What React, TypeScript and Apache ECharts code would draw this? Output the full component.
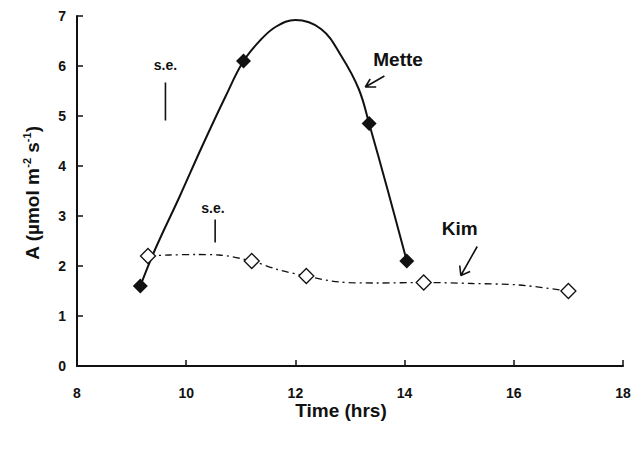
import React, { useEffect, useRef } from "react";
import * as echarts from "echarts";

// Measured points (markers)
const metteTime = [9.16, 11.05, 13.35, 14.04];
const metteA = [1.6, 6.1, 4.85, 2.1];
const kimTime = [9.3, 11.2, 12.2, 14.35, 17.0];
const kimA = [2.2, 2.1, 1.8, 1.67, 1.5];

// Fitted curves
const metteCurveTime = [9.16, 9.43, 9.88, 10.29, 10.72, 11.05, 11.37, 11.65, 12.0, 12.47, 12.84, 13.16, 13.35, 13.7, 14.04];
const metteCurveA = [1.6, 2.33, 3.39, 4.39, 5.39, 6.1, 6.53, 6.79, 6.92, 6.74, 6.2, 5.54, 4.85, 3.48, 2.1];
const kimCurveTime = [9.3, 9.7, 10.2, 10.6, 11.2, 11.67, 12.2, 12.8, 13.5, 14.35, 15.25, 16.1, 17.0];
const kimCurveA = [2.2, 2.22, 2.23, 2.22, 2.1, 1.93, 1.8, 1.68, 1.66, 1.67, 1.65, 1.62, 1.5];

// Standard-error bars: [time, top, bottom]
const seMette = [9.62, 5.67, 4.91];
const seKim = [10.53, 2.93, 2.47];

// Annotation labels
const labelTexts = ["Mette", "Kim", "s.e.", "s.e."];
const labelTime = [13.88, 15.01, 9.62, 10.49];
const labelA = [6.14, 2.75, 6.03, 3.17];
const labelSize = [19, 19, 14, 14];

// Arrows: tail, head, wing1, wing2 (time, A)
const metteArrow = [[13.63, 5.8], [13.28, 5.58], [13.37, 5.74], [13.48, 5.58]];
const kimArrow = [[15.33, 2.39], [15.03, 1.81], [15.01, 2.01], [15.2, 1.89]];

const xMin = 8, xMax = 18, xStep = 2;
const yMin = 0, yMax = 7, yStep = 1;

const FONT = '"Liberation Sans", Arial, Helvetica, sans-serif';
const INK = "#111";

function zip(a: number[], b: number[]) {
  return a.map((v, i) => [v, b[i]]);
}

function arrowPath(a: number[][]) {
  return [a[0], a[1], a[2], a[1], a[3]];
}

export default function App() {
  const ref = useRef<HTMLDivElement>(null);
  useEffect(() => {
    if (!ref.current) return;
    const chart = echarts.init(ref.current, null, { renderer: "svg" });
    const lineBase = {
      type: "line",
      symbol: "none",
      silent: true,
      animation: false,
    };
    chart.setOption({
      animation: false,
      backgroundColor: "#fff",
      grid: { left: 77, right: 12, top: 16, bottom: 89 },
      xAxis: {
        type: "value",
        min: xMin,
        max: xMax,
        interval: xStep,
        splitLine: { show: false },
        axisLine: { show: true, onZero: false, lineStyle: { color: INK, width: 2 } },
        axisTick: { show: true, inside: true, length: 6, lineStyle: { color: INK, width: 1.5 } },
        axisLabel: { color: INK, fontFamily: FONT, fontWeight: "bold", fontSize: 14, margin: 20 },
      },
      yAxis: {
        type: "value",
        min: yMin,
        max: yMax,
        interval: yStep,
        splitLine: { show: false },
        axisLine: { show: true, onZero: false, lineStyle: { color: INK, width: 2 } },
        axisTick: { show: true, inside: true, length: 6, lineStyle: { color: INK, width: 1.5 } },
        axisLabel: { color: INK, fontFamily: FONT, fontWeight: "bold", fontSize: 14, margin: 11 },
      },
      graphic: [
        {
          type: "text",
          x: 341,
          y: 410,
          style: {
            text: "Time (hrs)",
            fill: INK,
            font: `bold 19px ${FONT}`,
            align: "center",
            verticalAlign: "middle",
          },
        },
        {
          type: "text",
          x: 32,
          y: 193,
          rotation: Math.PI / 2,
          style: {
            text: "{a|A (µmol m}{s|-2}{a| s}{s|-1}{a|)}",
            fill: INK,
            align: "center",
            verticalAlign: "middle",
            rich: {
              a: { fontFamily: FONT, fontWeight: "bold", fontSize: 19, lineHeight: 22, fill: INK },
              s: { fontFamily: FONT, fontWeight: "bold", fontSize: 11, verticalAlign: "top", fill: INK },
            },
          },
        },
      ],
      series: [
        {
          ...lineBase,
          name: "Mette fit",
          smooth: 0.4,
          data: zip(metteCurveTime, metteCurveA),
          lineStyle: { color: INK, width: 2 },
          z: 2,
        },
        {
          ...lineBase,
          name: "Kim fit",
          smooth: 0.3,
          data: zip(kimCurveTime, kimCurveA),
          lineStyle: { color: INK, width: 1.3, type: [7, 4, 2, 4] },
          z: 2,
        },
        {
          type: "scatter",
          name: "Mette",
          silent: true,
          symbol: "diamond",
          symbolSize: 15,
          data: zip(metteTime, metteA),
          itemStyle: { color: INK, opacity: 1 },
          z: 4,
        },
        {
          type: "scatter",
          name: "Kim",
          silent: true,
          symbol: "diamond",
          symbolSize: 15,
          data: zip(kimTime, kimA),
          itemStyle: { color: "#fff", borderColor: INK, borderWidth: 1.3, opacity: 1 },
          z: 4,
        },
        {
          ...lineBase,
          name: "se Mette",
          data: [[seMette[0], seMette[1]], [seMette[0], seMette[2]]],
          lineStyle: { color: INK, width: 1.6 },
        },
        {
          ...lineBase,
          name: "se Kim",
          data: [[seKim[0], seKim[1]], [seKim[0], seKim[2]]],
          lineStyle: { color: INK, width: 1.6 },
        },
        {
          ...lineBase,
          name: "arrow Mette",
          data: arrowPath(metteArrow),
          lineStyle: { color: INK, width: 1.6 },
        },
        {
          ...lineBase,
          name: "arrow Kim",
          data: arrowPath(kimArrow),
          lineStyle: { color: INK, width: 1.6 },
        },
        {
          type: "scatter",
          name: "labels",
          silent: true,
          symbolSize: 1,
          itemStyle: { color: "transparent", opacity: 1 },
          data: labelTexts.map((t, i) => ({
            name: t,
            value: [labelTime[i], labelA[i]],
            label: {
              show: true,
              position: "inside",
              formatter: t,
              color: INK,
              opacity: 1,
              fontFamily: FONT,
              fontWeight: "bold",
              fontSize: labelSize[i],
              align: "center",
              verticalAlign: "middle",
            },
          })),
          z: 5,
        },
      ],
    });
    return () => chart.dispose();
  }, []);
  return (
    <div
      ref={ref}
      style={{ position: "fixed", left: 0, top: 0, width: 635, height: 455, background: "#fff" }}
    />
  );
}
